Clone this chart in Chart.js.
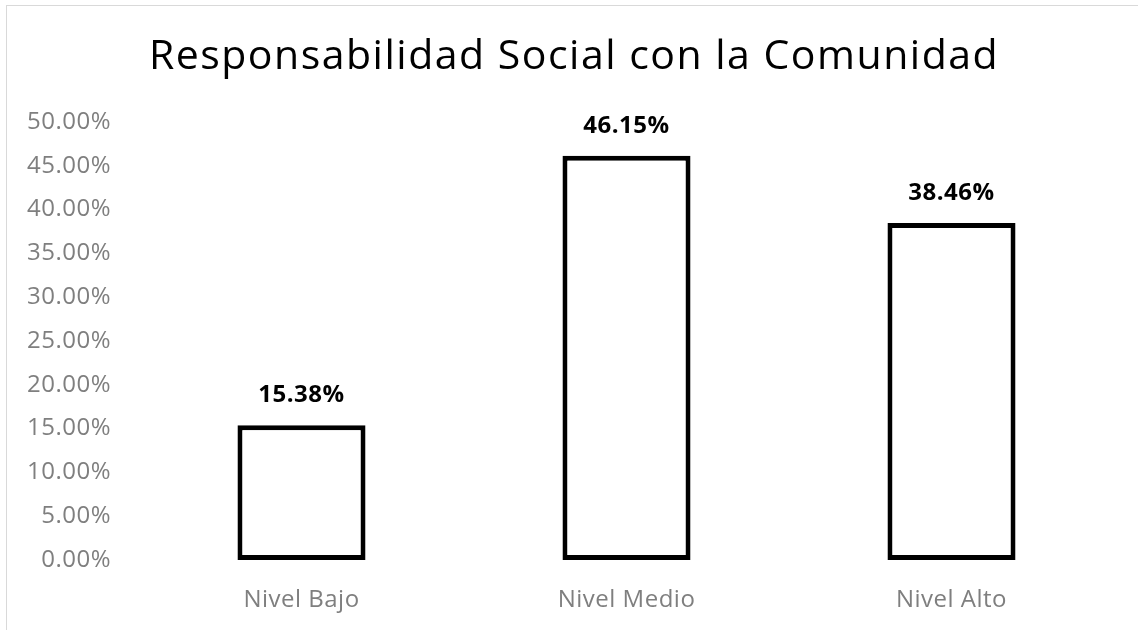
<!DOCTYPE html>
<html>
<head>
<meta charset="utf-8">
<script src="https://cdn.jsdelivr.net/npm/chart.js@4/dist/chart.umd.min.js"></script>
<style>
  html, body { margin: 0; padding: 0; background: #fff; overflow: hidden; }
  #wrap { position: relative; width: 1138px; height: 630px; }
  #frame { position: absolute; left: 6px; top: 5px; width: 1200px; height: 700px;
           border-left: 1px solid #d9d9d9; border-top: 1px solid #d9d9d9; }
  canvas { position: absolute; left: 0; top: 0; }
</style>
</head>
<body>
<div id="wrap">
  <div id="frame"></div>
  <canvas id="chart" width="1138" height="630"></canvas>
</div>
<script>
const chartTitle = "Responsabilidad Social con la Comunidad";
const categories = ["Nivel Bajo", "Nivel Medio", "Nivel Alto"];
const values = [0.1538, 0.4615, 0.3846];
const yMin = 0;
const yMax = 0.5;
const yStep = 0.05;

const pct = (v) => (v * 100).toFixed(2) + "%";

// title and data labels drawn by hand so letter spacing can match
const decorPlugin = {
  id: "decor",
  beforeDraw(chart) {
    const ctx = chart.ctx;
    ctx.save();
    ctx.letterSpacing = "1.5px";
    ctx.font = "41px 'Open Sans'";
    ctx.fillStyle = "#000";
    ctx.textAlign = "center";
    ctx.textBaseline = "alphabetic";
    ctx.fillText(chartTitle, 574, 69);
    ctx.restore();
    ctx.letterSpacing = "0.5px";
  },
  afterDatasetsDraw(chart) {
    const ctx = chart.ctx;
    const meta = chart.getDatasetMeta(0);
    ctx.save();
    ctx.letterSpacing = "0.5px";
    ctx.font = "bold 24px 'Open Sans'";
    ctx.fillStyle = "#000";
    ctx.textAlign = "center";
    ctx.textBaseline = "middle";
    meta.data.forEach((bar, i) => {
      ctx.fillText(pct(values[i]), bar.x, bar.y - 30);
    });
    ctx.restore();
  }
};

new Chart(document.getElementById("chart"), {
  type: "bar",
  data: {
    labels: categories,
    datasets: [{
      data: values,
      backgroundColor: "#ffffff",
      borderColor: "#000000",
      borderWidth: 5,
      borderSkipped: false,
      barPercentage: 0.394,
      categoryPercentage: 1
    }]
  },
  options: {
    responsive: false,
    animation: false,
    layout: { padding: { top: 122, right: 24, left: 0, bottom: 0 } },
    plugins: {
      legend: { display: false },
      title: { display: false },
      tooltip: { enabled: false }
    },
    scales: {
      x: {
        grid: { display: false, drawTicks: false },
        border: { display: false },
        ticks: { color: "#7f7f7f", font: { family: "'Open Sans'", size: 24 }, padding: 26 },
        afterFit(scale) { scale.height = 70; }
      },
      y: {
        min: yMin,
        max: yMax,
        grid: { display: false, drawTicks: false },
        border: { display: false },
        ticks: {
          stepSize: yStep,
          color: "#7f7f7f",
          font: { family: "'Open Sans'", size: 24 },
          padding: 28,
          callback: (v) => pct(v)
        },
        afterFit(scale) { scale.width = 139; }
      }
    }
  },
  plugins: [decorPlugin]
});
</script>
</body>
</html>
